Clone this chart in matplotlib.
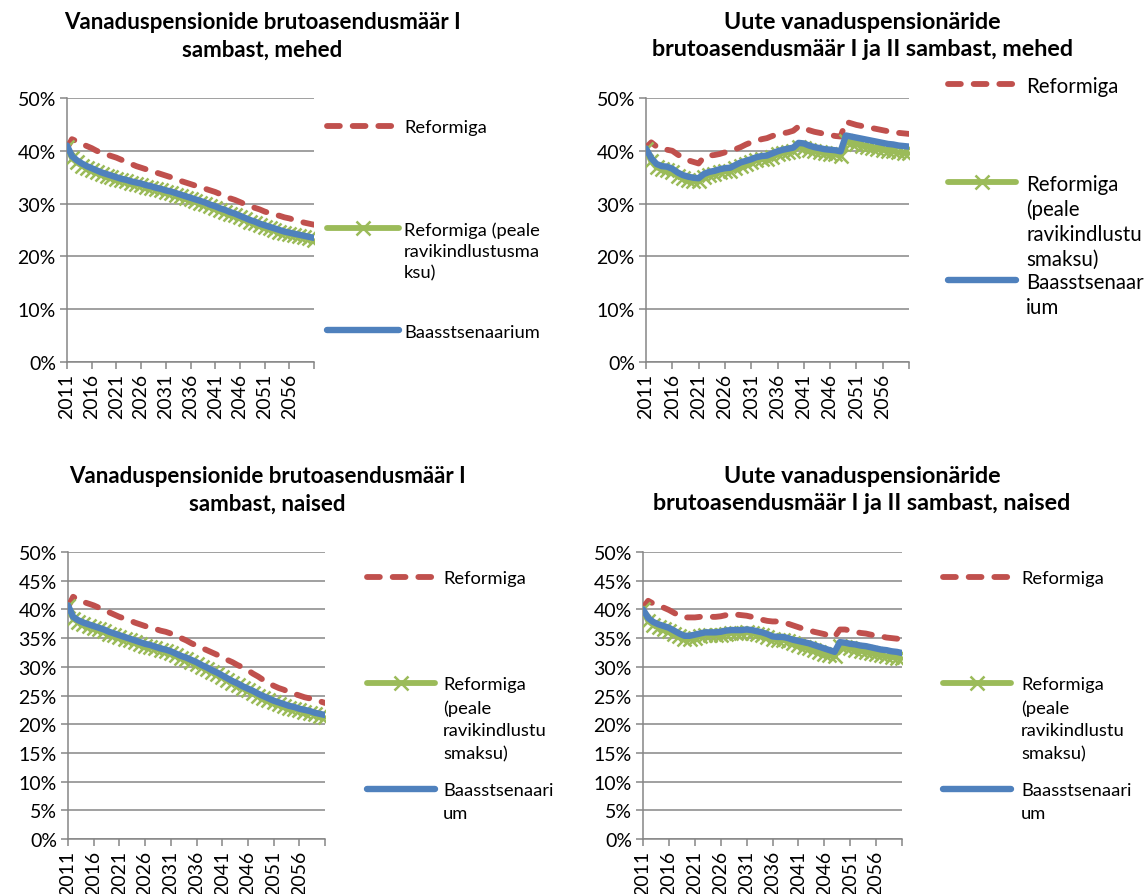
import matplotlib
matplotlib.use("Agg")
import matplotlib.pyplot as plt
from matplotlib.lines import Line2D

plt.rcParams['font.family'] = ['Lato', 'DejaVu Sans']

years = list(range(2011, 2062))

# Panel 1: I sammas, mehed
p1_reform = [40.5, 42.2, 41.8, 41.3, 40.9, 40.5, 40.0, 39.6, 39.3, 39.0, 38.7, 38.3, 37.9, 37.5, 37.1,
             36.8, 36.5, 36.2, 35.9, 35.6, 35.3, 35.0, 34.6, 34.3, 34.0, 33.7, 33.4, 33.1, 32.8, 32.5,
             32.2, 31.8, 31.4, 31.0, 30.7, 30.3, 29.9, 29.6, 29.2, 28.9, 28.5, 28.2, 27.9, 27.7, 27.4,
             27.2, 26.9, 26.7, 26.4, 26.2, 26.0]
p1_reform_rk = [40.8, 38.6, 37.8, 37.2, 36.8, 36.4, 36.0, 35.6, 35.3, 35.0, 34.7, 34.4, 34.2, 33.9, 33.7,
                33.5, 33.2, 33.0, 32.7, 32.5, 32.2, 32.0, 31.7, 31.4, 31.1, 30.8, 30.5, 30.2, 29.9, 29.5,
                29.2, 28.8, 28.5, 28.1, 27.8, 27.4, 27.0, 26.6, 26.3, 25.9, 25.6, 25.3, 25.0, 24.7, 24.4,
                24.2, 24.0, 23.8, 23.6, 23.4, 23.2]
p1_base = [41.0, 39.0, 38.2, 37.6, 37.1, 36.7, 36.3, 35.9, 35.6, 35.3, 35.0, 34.7, 34.5, 34.2, 34.0,
           33.8, 33.5, 33.3, 33.0, 32.8, 32.5, 32.3, 32.0, 31.7, 31.4, 31.1, 30.8, 30.5, 30.2, 29.8,
           29.5, 29.1, 28.8, 28.4, 28.1, 27.7, 27.3, 26.9, 26.6, 26.2, 25.9, 25.6, 25.3, 25.0, 24.7,
           24.5, 24.3, 24.1, 23.9, 23.7, 23.5]

# Panel 2: I ja II sammas, mehed
p2_reform = [40.6, 41.6, 40.8, 40.3, 40.2, 40.0, 39.3, 38.7, 38.2, 37.9, 37.6, 38.8, 39.1, 39.2, 39.4,
             39.7, 40.0, 40.3, 40.7, 41.2, 41.6, 41.9, 42.2, 42.4, 42.8, 43.1, 43.3, 43.5, 43.8, 44.6,
             44.4, 43.9, 43.6, 43.4, 43.2, 43.0, 42.8, 42.7, 45.5, 45.2, 44.9, 44.7, 44.5, 44.3, 44.1,
             43.9, 43.7, 43.5, 43.4, 43.3, 43.2]
p2_reform_rk = [40.3, 38.0, 36.9, 36.5, 36.3, 35.9, 35.3, 34.8, 34.5, 34.3, 34.2, 35.0, 35.4, 35.6, 35.9,
                36.1, 36.2, 36.7, 37.2, 37.5, 37.8, 38.2, 38.4, 38.5, 38.9, 39.3, 39.6, 39.8, 40.0, 40.8,
                40.6, 40.2, 39.9, 39.7, 39.5, 39.4, 39.3, 39.1, 41.8, 41.5, 41.3, 41.0, 40.8, 40.6, 40.4,
                40.2, 40.0, 39.9, 39.7, 39.6, 39.5]
p2_base = [40.4, 38.6, 37.5, 37.1, 37.0, 36.6, 35.9, 35.4, 35.1, 34.9, 34.8, 35.6, 36.0, 36.2, 36.5,
           36.7, 36.8, 37.3, 37.8, 38.1, 38.4, 38.8, 39.0, 39.1, 39.5, 39.9, 40.2, 40.4, 40.6, 41.5,
           41.4, 41.0, 40.7, 40.5, 40.3, 40.2, 40.1, 39.9, 42.9, 42.7, 42.5, 42.3, 42.1, 41.9, 41.7,
           41.5, 41.3, 41.2, 41.0, 40.9, 40.8]

# Panel 3: I sammas, naised
p3_reform = [40.4, 42.2, 41.7, 41.3, 41.0, 40.7, 40.3, 39.9, 39.5, 39.1, 38.7, 38.4, 38.1, 37.7, 37.4,
             37.1, 36.8, 36.6, 36.3, 36.1, 35.8, 35.4, 35.0, 34.6, 34.1, 33.7, 33.3, 32.9, 32.5, 32.1,
             31.7, 31.2, 30.8, 30.3, 29.9, 29.4, 28.8, 28.3, 27.7, 27.2, 26.7, 26.3, 26.0, 25.6, 25.3,
             25.0, 24.7, 24.5, 24.2, 24.0, 23.7]
p3_reform_rk = [40.6, 38.4, 37.8, 37.4, 37.1, 36.8, 36.5, 36.2, 35.8, 35.5, 35.2, 34.9, 34.6, 34.3, 34.0,
                33.7, 33.5, 33.2, 32.9, 32.7, 32.4, 32.0, 31.6, 31.3, 30.9, 30.5, 30.0, 29.6, 29.1, 28.7,
                28.2, 27.7, 27.2, 26.8, 26.3, 25.9, 25.5, 25.0, 24.6, 24.2, 23.8, 23.5, 23.2, 22.9, 22.7,
                22.4, 22.2, 22.0, 21.7, 21.5, 21.3]
p3_base = [40.7, 38.7, 38.1, 37.7, 37.4, 37.1, 36.8, 36.5, 36.1, 35.8, 35.5, 35.2, 34.9, 34.6, 34.3,
           34.0, 33.8, 33.5, 33.2, 33.0, 32.7, 32.3, 31.9, 31.6, 31.2, 30.8, 30.3, 29.9, 29.4, 29.0,
           28.5, 28.0, 27.5, 27.1, 26.6, 26.2, 25.8, 25.3, 24.9, 24.5, 24.1, 23.8, 23.5, 23.2, 23.0,
           22.7, 22.5, 22.3, 22.0, 21.8, 21.6]

# Panel 4: I ja II sammas, naised
p4_reform = [40.3, 41.5, 41.0, 40.6, 40.3, 39.9, 39.4, 38.9, 38.6, 38.6, 38.6, 38.7, 38.7, 38.7, 38.7,
             38.8, 39.0, 39.2, 39.1, 39.0, 38.9, 38.7, 38.5, 38.2, 38.0, 37.9, 37.9, 37.8, 37.5, 37.2,
             36.9, 36.6, 36.4, 36.1, 35.9, 35.7, 35.4, 35.2, 36.5, 36.5, 36.3, 36.1, 35.9, 35.8, 35.6,
             35.4, 35.3, 35.1, 35.0, 34.9, 34.8]
p4_reform_rk = [40.0, 38.0, 37.3, 36.9, 36.6, 36.3, 35.8, 35.3, 34.9, 34.9, 35.1, 35.3, 35.5, 35.5, 35.5,
                35.6, 35.8, 35.9, 35.9, 35.9, 36.0, 35.9, 35.7, 35.5, 35.2, 34.8, 34.7, 34.7, 34.5, 34.1,
                33.8, 33.5, 33.2, 32.9, 32.6, 32.3, 32.0, 31.8, 33.6, 33.4, 33.2, 33.0, 32.8, 32.6, 32.4,
                32.2, 32.0, 31.8, 31.7, 31.6, 31.5]
p4_base = [40.0, 38.5, 37.8, 37.4, 37.1, 36.8, 36.3, 35.8, 35.4, 35.4, 35.6, 35.8, 36.0, 36.0, 36.0,
           36.1, 36.3, 36.4, 36.4, 36.4, 36.5, 36.4, 36.2, 36.0, 35.7, 35.3, 35.2, 35.2, 35.0, 34.7,
           34.5, 34.3, 34.1, 33.8, 33.5, 33.2, 32.9, 32.6, 34.3, 34.2, 34.0, 33.9, 33.7, 33.6, 33.4,
           33.2, 33.0, 32.9, 32.7, 32.6, 32.4]

titles = [
    "Vanaduspensionide brutoasendusmäär I\nsambast, mehed",
    "Uute vanaduspensionäride\nbrutoasendusmäär I ja II sambast, mehed",
    "Vanaduspensionide brutoasendusmäär I\nsambast, naised",
    "Uute vanaduspensionäride\nbrutoasendusmäär I ja II sambast, naised",
]
legend_labels = [
    ["Reformiga", "Reformiga (peale\nravikindlustusma\nksu)", "Baasstsenaarium"],
    ["Reformiga", "Reformiga\n(peale\nravikindlustu\nsmaksu)", "Baasstsenaar\nium"],
    ["Reformiga", "Reformiga\n(peale\nravikindlustu\nsmaksu)", "Baasstsenaari\num"],
    ["Reformiga", "Reformiga\n(peale\nravikindlustu\nsmaksu)", "Baasstsenaari\num"],
]
series = [
    (p1_reform, p1_reform_rk, p1_base),
    (p2_reform, p2_reform_rk, p2_base),
    (p3_reform, p3_reform_rk, p3_base),
    (p4_reform, p4_reform_rk, p4_base),
]

RED = "#C0504D"
GREEN = "#9BBB59"
BLUE = "#4F81BD"
GRID = "#868686"

W, H = 1145, 895
fig = plt.figure(figsize=(W / 100, H / 100), dpi=100)

# layout in pixels: left, right, top, bottom
boxes = [(67, 314, 99, 363), (646, 909, 99, 363), (68, 325, 553, 840), (643, 902, 553, 840)]
ystep = [10, 10, 5, 5]
title_pos = [(262, 36), (862, 36), (267, 490), (862, 490)]
title_fs = [16, 16.8, 16, 16.8]
# legend: line x0, x1, text x, ys for 3 entries, fontsize, pixel step between text lines
legend_cfg = [
    (327, 399, 404, (127, 229, 331), 13.2, 21.5),
    (948, 1016, 1026, (85, 183, 281), 14.8, 25.0),
    (367, 435, 443, (578, 684, 790), 13.2, 23.0),
    (943, 1011, 1021, (578, 684, 790), 13.2, 23.0),
]

LW_RED, LW_GREEN, LW_BLUE = 4.2, 4.2, 4.6
MS = 10


def fx(px):
    return px / W


def fy(py):
    return 1 - py / H


for i, (l, r, t, b) in enumerate(boxes):
    ax = fig.add_axes([fx(l), fy(b), (r - l) / W, (b - t) / H])
    red, green, blue = series[i]
    ax.plot(years, red, color=RED, lw=LW_RED, dashes=(2.2, 2.2), dash_capstyle='round',
            solid_capstyle='round', zorder=3)
    ax.plot(years, green, color=GREEN, lw=LW_GREEN, marker='x', markersize=MS, mew=1.8,
            solid_joinstyle='round', zorder=4)
    ax.plot(years, blue, color=BLUE, lw=LW_BLUE, solid_joinstyle='round',
            solid_capstyle='round', zorder=5)
    ax.set_xlim(2011, 2061)
    ax.set_ylim(0, 50)
    yt = list(range(0, 51, ystep[i]))
    ax.set_yticks(yt)
    ax.set_yticklabels([f"{v}%" for v in yt], fontsize=14)
    xt = list(range(2011, 2062, 5))
    ax.set_xticks(xt)
    ax.set_xticklabels([str(v) if v < 2061 else "" for v in xt], rotation=90, fontsize=14)
    ax.grid(axis='y', color=GRID, lw=1.1)
    ax.set_axisbelow(True)
    for s in ['top', 'right']:
        ax.spines[s].set_visible(False)
    for s in ['left', 'bottom']:
        ax.spines[s].set_color(GRID)
        ax.spines[s].set_linewidth(1.1)
    ax.tick_params(axis='both', direction='out', length=5, width=1.1, color=GRID, pad=3)
    ax.patch.set_alpha(0)

    tx, ty = title_pos[i]
    fig.text(fx(tx), fy(ty), titles[i], ha='center', va='center', fontsize=title_fs[i],
             fontweight='bold', linespacing=1.4)

    x0, x1, xt_, ys, fs, step = legend_cfg[i]
    labels = legend_labels[i]
    fig.add_artist(Line2D([fx(x0), fx(x1)], [fy(ys[0])] * 2, color=RED, lw=LW_RED,
                          dashes=(2.2, 2.2), dash_capstyle='round'))
    fig.add_artist(Line2D([fx(x0), fx(x1)], [fy(ys[1])] * 2, color=GREEN, lw=LW_GREEN,
                          solid_capstyle='round'))
    fig.add_artist(Line2D([fx((x0 + x1) / 2)], [fy(ys[1])], color=GREEN, marker='x',
                          markersize=MS, mew=1.8, lw=0))
    fig.add_artist(Line2D([fx(x0), fx(x1)], [fy(ys[2])] * 2, color=BLUE, lw=LW_BLUE,
                          solid_capstyle='round'))
    for k in range(3):
        for j, line in enumerate(labels[k].split("\n")):
            fig.text(fx(xt_), fy(ys[k] + j * step), line, ha='left', va='center_baseline',
                     fontsize=fs)

fig.savefig("out.png", dpi=100)
